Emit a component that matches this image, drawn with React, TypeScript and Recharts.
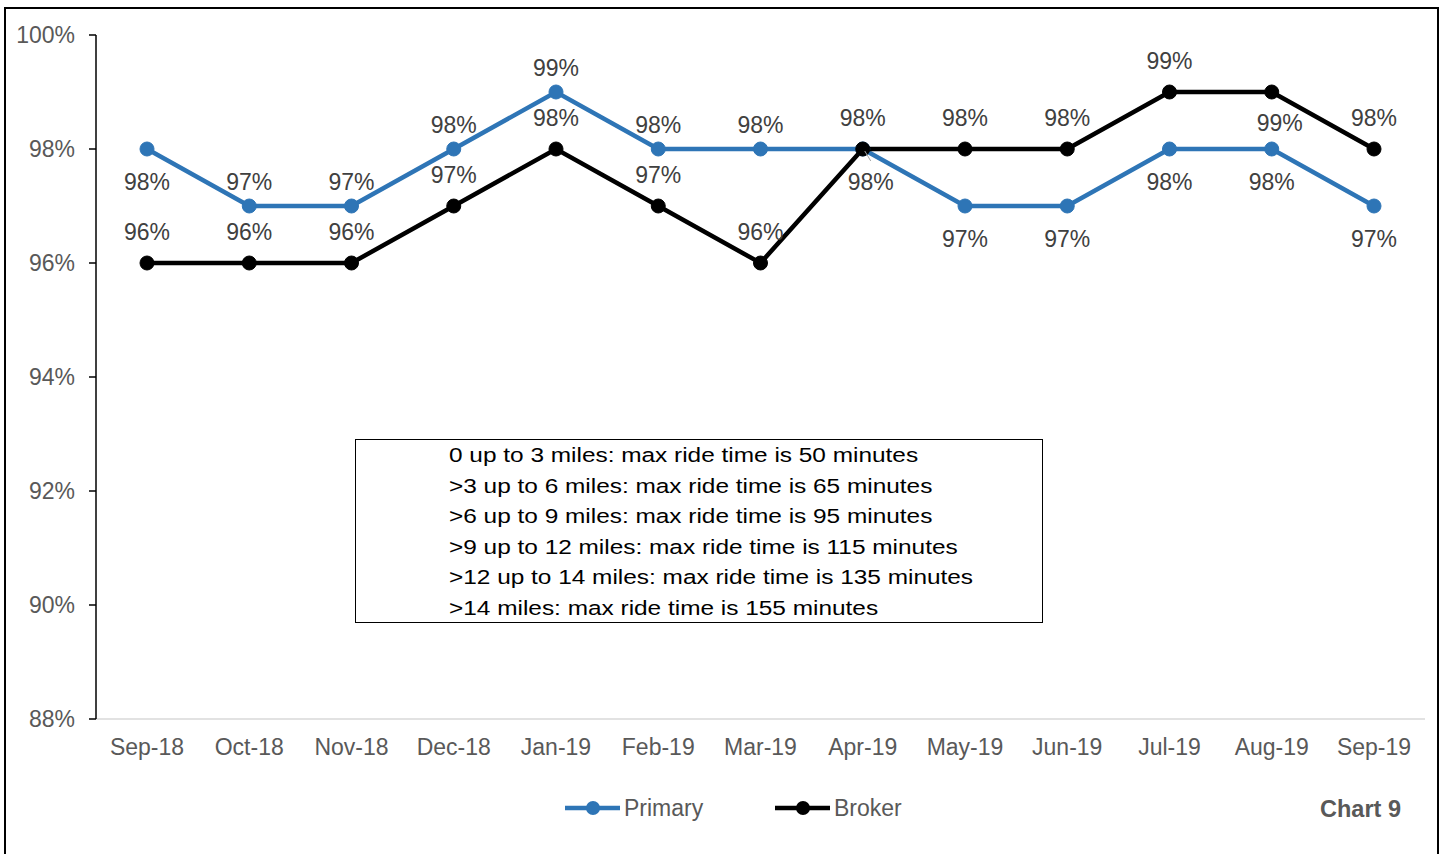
import { LineChart, Line, XAxis, YAxis, LabelList } from 'recharts'

const MONTHS = ['Sep-18', 'Oct-18', 'Nov-18', 'Dec-18', 'Jan-19', 'Feb-19', 'Mar-19', 'Apr-19', 'May-19', 'Jun-19', 'Jul-19', 'Aug-19', 'Sep-19']
const PRIMARY = [98, 97, 97, 98, 99, 98, 98, 98, 97, 97, 98, 98, 97]
const BROKER = [96, 96, 96, 97, 98, 97, 96, 98, 98, 98, 99, 99, 98]
const Y_TICKS = [88, 90, 92, 94, 96, 98, 100]
const NOTE_LINES = [
  '0 up to 3 miles: max ride time is 50 minutes',
  '>3 up to 6 miles: max ride time is 65 minutes',
  '>6 up to 9 miles: max ride time is 95 minutes',
  '>9 up to 12 miles: max ride time is 115 minutes',
  '>12 up to 14 miles: max ride time is 135 minutes',
  '>14 miles: max ride time is 155 minutes',
]

// which side of the point each data label sits on ('below+' = nudged right, with a leader line)
const PRIMARY_SIDE = ['below', 'above', 'above', 'above', 'above', 'above', 'above', 'below+', 'below', 'below', 'below', 'below', 'below']
const BROKER_SIDE = ['above', 'above', 'above', 'above', 'above', 'above', 'above', 'above', 'above', 'above', 'above', 'below>', 'above']

const data = MONTHS.map((m, i) => ({ month: m, primary: PRIMARY[i], broker: BROKER[i] }))

const FONT = '"Liberation Sans", Arial, sans-serif'
const BLUE = '#2E75B6'
const FS = 23

const makeLabel = (sides: string[], above: number, below: number) => (props: any) => {
  const { x, y, value, index } = props
  const side = sides[index]
  const dy = side === 'above' ? -above : below
  const dx = side === 'below' || side === 'above' ? 0 : 8
  return (
    <g>
      {side === 'below+' && <line x1={x + 2} y1={y + 2} x2={x + 8} y2={y + 12} stroke="#A6A6A6" strokeWidth={1} />}
      <text x={x + dx} y={y + dy} textAnchor="middle" dominantBaseline="central"
        fontSize={FS} fill="#404040" fontFamily={FONT}>{value}%</text>
    </g>
  )
}

const LegendBox = () => (
  <svg width={1443} height={36} style={{ position: 'absolute', left: 0, top: 790 }}>
    <line x1={565} x2={620} y1={18} y2={18} stroke={BLUE} strokeWidth={4.5} />
    <circle cx={593} cy={18} r={7} fill={BLUE} />
    <line x1={775} x2={830} y1={18} y2={18} stroke="#000" strokeWidth={4.5} />
    <circle cx={803} cy={18} r={7} fill="#000" />
    <text x={624} y={18} dominantBaseline="central" fontSize={FS} fill="#595959" fontFamily={FONT}>Primary</text>
    <text x={834} y={18} dominantBaseline="central" fontSize={FS} fill="#595959" fontFamily={FONT}>Broker</text>
    <text x={1401} y={19} textAnchor="end" dominantBaseline="central" fontSize={23.5} fontWeight="bold" fill="#595959" fontFamily={FONT}>Chart 9</text>
  </svg>
)

export default function App() {
  return (
    <div style={{ position: 'absolute', left: 0, top: 0, width: 1443, height: 854, background: 'white', overflow: 'hidden' }}>
      <div style={{ position: 'absolute', left: 4, top: 7, width: 1431, height: 900, border: '2px solid #000' }} />
      <LineChart width={1443} height={854} data={data}
        margin={{ top: 35, right: 18, bottom: 105, left: 36 }}>
        <XAxis dataKey="month" tickLine={false} tickSize={0} tickMargin={20} height={30}
          padding={{ left: 51, right: 51 }}
          axisLine={{ stroke: '#D9D9D9', strokeWidth: 1.5 }}
          tick={{ fontSize: FS, fill: '#595959', fontFamily: FONT }} interval={0} />
        <YAxis width={60} domain={[88, 100]} ticks={Y_TICKS} tickFormatter={(v: number) => `${v}%`}
          tickSize={7} tickMargin={14} allowDataOverflow
          axisLine={{ stroke: '#000', strokeWidth: 1.5 }} tickLine={{ stroke: '#000', strokeWidth: 1.5 }}
          tick={{ fontSize: FS, fill: '#595959', fontFamily: FONT }} />
        <Line dataKey="primary" name="Primary" stroke={BLUE} strokeWidth={4.5}
          dot={{ r: 7, fill: BLUE, stroke: BLUE, strokeWidth: 1 }} activeDot={false}
          isAnimationActive={false}>
          <LabelList dataKey="primary" content={makeLabel(PRIMARY_SIDE, 24, 33)} />
        </Line>
        <Line dataKey="broker" name="Broker" stroke="#000" strokeWidth={4.5}
          dot={{ r: 7, fill: '#000', stroke: '#000', strokeWidth: 1 }} activeDot={false}
          isAnimationActive={false}>
          <LabelList dataKey="broker" content={makeLabel(BROKER_SIDE, 31, 31)} />
        </Line>
      </LineChart>
      <LegendBox />
      <div style={{ position: 'absolute', left: 355, top: 439, width: 686, height: 182, border: '1.5px solid #000',
        background: 'white', fontFamily: FONT }}>
        {NOTE_LINES.map((t) => (
          <div key={t} style={{ paddingLeft: 93, height: 30.5, lineHeight: '30.5px', fontSize: 20.5, color: '#000',
            whiteSpace: 'nowrap', transform: 'scaleX(1.19)', transformOrigin: '93px 50%' }}>{t}</div>
        ))}
      </div>
    </div>
  )
}
